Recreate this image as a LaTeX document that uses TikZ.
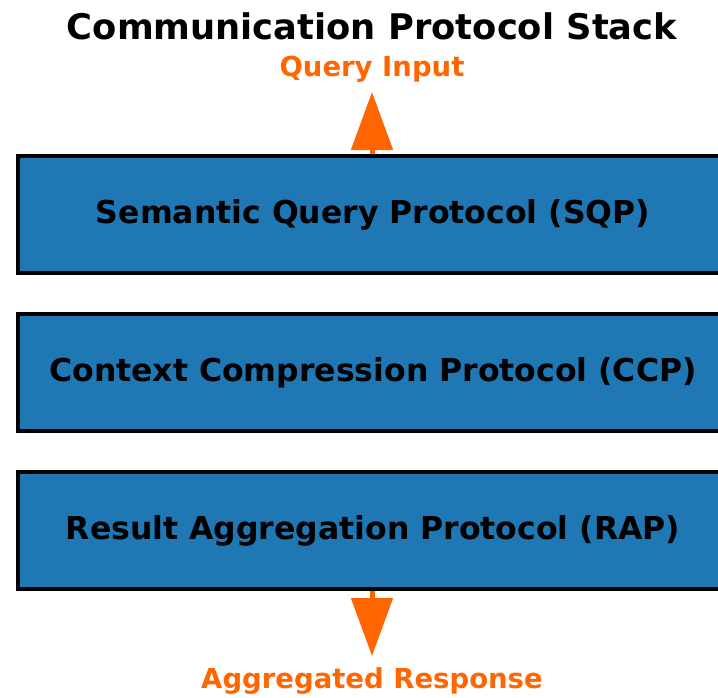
\documentclass[tikz,border=0pt]{standalone}
\usepackage{fontspec}
\setmainfont{DejaVu Sans}
\usetikzlibrary{arrows.meta}

\definecolor{stackblue}{HTML}{1F77B4}
\definecolor{flowor}{HTML}{FF6600}

\tikzset{
    layer/.style={draw=black, line width=3.5pt, fill=stackblue, minimum width=710pt,
        minimum height=117pt, inner sep=0pt, font=\fontsize{31.5}{36}\selectfont\bfseries},
    flowlabel/.style={text=flowor, font=\fontsize{27.5}{32}\selectfont\bfseries},
    flowarrow/.style={draw=flowor, line width=5pt, -{Triangle[width=41pt,length=58pt]}, flowor}
}

\begin{document}
\begin{tikzpicture}[x=1pt, y=-1pt]
    \useasboundingbox (0,0) rectangle (718,697);

    \node[font=\fontsize{35.3}{40}\selectfont\bfseries] (title) at (372,26) {Communication Protocol Stack};
    \node[flowlabel] (qin) at (372,69.5) {Query Input};

    \node[layer] (sqp) at (373,214.5) {Semantic Query Protocol (SQP)};
    \node[layer] (ccp) at (373,372.5) {Context Compression Protocol (CCP)};
    \node[layer] (rap) at (373,530.5) {Result Aggregation Protocol (RAP)};

    \node[flowlabel] (aout) at (372,681.5) {Aggregated Response};

    % arrows in and out of the stack
    \coordinate (intip) at (372,92);
    \coordinate (outtip) at (372,656);
    \draw[flowarrow] (sqp.north -| intip) -- (intip);
    \draw[flowarrow] (rap.south -| outtip) -- (outtip);

\end{tikzpicture}
\end{document}
